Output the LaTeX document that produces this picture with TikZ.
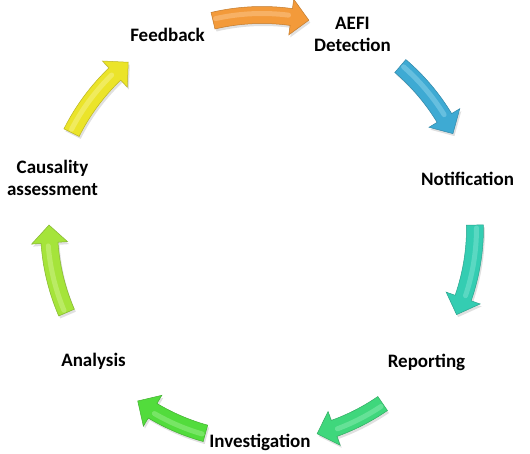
\documentclass[tikz,border=0pt]{standalone}
\usepackage{fontspec}
\setmainfont{Carlito}
\definecolor{cOr}{HTML}{F39A3A}
\definecolor{cOrH}{HTML}{FBC890}
\definecolor{cBl}{HTML}{3EAAD3}
\definecolor{cBlH}{HTML}{8FD4EC}
\definecolor{cTe}{HTML}{34CDB2}
\definecolor{cTeH}{HTML}{80E4D2}
\definecolor{cGa}{HTML}{3FD77C}
\definecolor{cGaH}{HTML}{8CEBB2}
\definecolor{cGb}{HTML}{52DC3C}
\definecolor{cGbH}{HTML}{9CEE8E}
\definecolor{cYg}{HTML}{A5E43A}
\definecolor{cYgH}{HTML}{D0F28E}
\definecolor{cYe}{HTML}{EBE42A}
\definecolor{cYeH}{HTML}{F6F290}
\newcommand{\cycpath}[3]{%
  \pgfmathsetmacro\hb{#2+4.8}%
  \path[#3] (#1:221.5) arc[start angle=#1, end angle=\hb, radius=221.5]
    -- (\hb:231) -- (#2:213) -- (\hb:195) -- (\hb:204.5)
    arc[start angle=\hb, end angle=#1, radius=204.5] -- cycle;}
\newcommand{\cycarrow}[4]{%
  \cycpath{#1}{#2}{fill=black, opacity=0.12, shift={(1.5,-2.5)}}%
  \cycpath{#1}{#2}{fill=#3, draw=#3!80!black, line width=0.5}%
  \pgfmathsetmacro\hc{#2+5.6}%
  \draw[#4, line width=5, line cap=round, opacity=0.5] (#1-0.8:214.5) arc[start angle=#1-0.8, end angle=\hc, radius=214.5];}
\tikzset{lbl/.style={font=\bfseries\fontsize{19}{22}\selectfont, align=center, text=black, inner sep=0pt}}
\begin{document}
\begin{tikzpicture}[x=1pt,y=1pt]
\useasboundingbox[fill=white] (-262,-226) rectangle (268,228);
\node[lbl] (fb) at (-94.5,193) {Feedback};
\node[lbl] (ad) at (90.5,194) {AEFI\\Detection};
\node[lbl] (no) at (205.5,49) {Notification};
\node[lbl] (re) at (164.5,-134) {Reporting};
\node[lbl] (in) at (-2,-214) {Investigation};
\node[lbl] (an) at (-168.5,-133) {Analysis};
\node[lbl] (ca) at (-209.5,50) {Causality\\assessment};
\cycarrow{103.3}{77.3}{cOr}{cOrH}
\cycarrow{49.5}{26.3}{cBl}{cBlH}
\cycarrow{0.8}{-24}{cTe}{cTeH}
\cycarrow{-55.5}{-75}{cGa}{cGaH}
\cycarrow{-105.4}{-125.7}{cGb}{cGbH}
\cycarrow{-156.6}{-180.8}{cYg}{cYgH}
\cycarrow{153.4}{128.9}{cYe}{cYeH}
\end{tikzpicture}
\end{document}
